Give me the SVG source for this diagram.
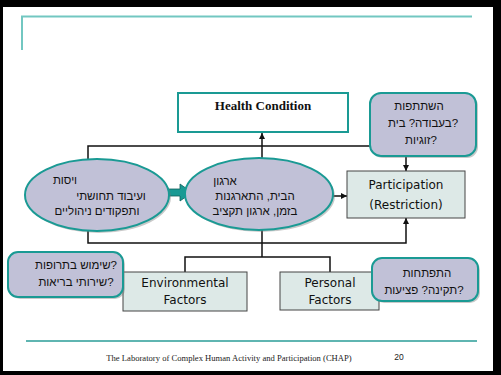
<svg xmlns="http://www.w3.org/2000/svg" width="501" height="375" viewBox="0 0 501 375">
<style>
.heb{font-family:"Liberation Sans","DejaVu Sans",sans-serif;font-size:11.5px;fill:#111;text-anchor:middle}
.q{direction:ltr;unicode-bidi:embed}
.eng{font-family:"DejaVu Sans","Liberation Sans",sans-serif;font-size:12px;fill:#111;text-anchor:middle}
.oval{fill:#c1c1d7;stroke:#1a9a94;stroke-width:2}
.bub{fill:#c1c1d7;stroke:#1a9a94;stroke-width:2}
.shadow{fill:#777;opacity:0.4}
.box{fill:#dde9e7;stroke:#444;stroke-width:1}
.ln{fill:none;stroke:#111;stroke-width:1.5}
</style>
<defs>
<marker id="ah" viewBox="0 0 10 10" refX="10" refY="5" markerWidth="6" markerHeight="6" orient="auto" markerUnits="userSpaceOnUse">
<path d="M0,0 L10,5 L0,10 z" fill="#111"/>
</marker>
</defs>
<rect x="0" y="0" width="501" height="375" fill="#000"/>
<rect x="3" y="7" width="490" height="364" fill="#fff"/>
<g id="decor">
<path d="M22,50 V16.5 H472" fill="none" stroke="#72c7c1" stroke-width="2"/>
<line x1="26" y1="341" x2="477" y2="341" stroke="#2a9d97" stroke-width="1.5"/>
<text x="229" y="361" font-family="Liberation Serif,serif" font-size="8.6" fill="#222" text-anchor="middle">The Laboratory of Complex Human Activity and Participation (CHAP)</text>
<text x="399" y="360" font-family="Liberation Sans,sans-serif" font-size="8.5" fill="#222" text-anchor="middle">20</text>
</g>
<g id="connectors">
<path class="ln" d="M88,159 V146 H370"/>
<line class="ln" x1="262" y1="158" x2="262" y2="133" marker-end="url(#ah)"/>
<line class="ln" x1="406" y1="157" x2="406" y2="171" marker-end="url(#ah)"/>
<line class="ln" x1="333" y1="196" x2="347" y2="196" marker-end="url(#ah)"/>
<path class="ln" d="M88,231 V243 H406 V218" marker-end="url(#ah)"/>
<path class="ln" d="M262,230 V257"/>
<path class="ln" d="M185,272 V257 H330 V272"/>
<path d="M160,189 H180 V184 L192,192.5 L180,201 V196 H160 Z" fill="#1a9a94" stroke="#0f5f5b" stroke-width="0.8"/>
</g>
<g id="health">
<rect x="178" y="93" width="170" height="39" fill="#fff" stroke="#1a9a94" stroke-width="2"/>
<text x="263" y="110" font-family="Liberation Serif,serif" font-size="13" font-weight="bold" fill="#111" text-anchor="middle">Health Condition</text>
</g>
<g id="ellipse-left">
<ellipse class="shadow" cx="99" cy="197" rx="72" ry="36"/>
<ellipse class="oval" cx="97" cy="195" rx="72" ry="36"/>
<text class="heb" x="65" y="184">ויסות</text>
<text class="heb" x="111" y="200">ועיבוד תחושתי</text>
<text class="heb" x="97" y="215">ותפקודים ניהוליים</text>
</g>
<g id="ellipse-middle">
<ellipse class="shadow" cx="261" cy="196" rx="74" ry="36"/>
<ellipse class="oval" cx="259" cy="194" rx="74" ry="36"/>
<text class="heb" x="225" y="185">ארגון</text>
<text class="heb" x="255" y="200">הבית, התארגנות</text>
<text class="heb" x="255" y="215">בזמן, ארגון תקציב</text>
</g>
<g id="participation">
<rect class="box" x="347" y="171" width="118" height="47"/>
<text class="eng" x="406" y="189">Participation</text>
<text class="eng" x="406" y="209">(Restriction)</text>
</g>
<g id="bubble-participation">
<rect class="shadow" x="372" y="95" width="106" height="63" rx="11"/>
<rect class="bub" x="370" y="93" width="106" height="63" rx="11"/>
<text class="heb" x="419" y="110">השתתפות</text>
<text class="heb q" x="423" y="127">&#x200E;בעבודה? בית?&#x200E;</text>
<text class="heb q" x="421" y="144">&#x200E;זוגיות?&#x200E;</text>
</g>
<g id="environmental">
<rect class="box" x="123" y="272" width="124" height="39"/>
<text class="eng" x="185" y="287">Environmental</text>
<text class="eng" x="185" y="304">Factors</text>
</g>
<g id="personal">
<rect class="box" x="280" y="272" width="99" height="38"/>
<text class="eng" x="330" y="287">Personal</text>
<text class="eng" x="330" y="304">Factors</text>
</g>
<g id="bubble-environmental">
<rect class="shadow" x="10" y="254" width="115" height="45" rx="10"/>
<rect class="bub" x="8" y="252" width="115" height="45" rx="10"/>
<text class="heb q" x="76" y="269">&#x200E;שימוש בתרופות?&#x200E;</text>
<text class="heb q" x="76" y="286">&#x200E;שירותי בריאות?&#x200E;</text>
</g>
<g id="bubble-personal">
<rect class="shadow" x="374" y="260" width="106" height="43" rx="10"/>
<rect class="bub" x="372" y="258" width="106" height="43" rx="10"/>
<text class="heb" x="427" y="277">התפתחות</text>
<text class="heb q" x="424" y="294">&#x200E;תקינה? פציעות?&#x200E;</text>
</g>
</svg>
